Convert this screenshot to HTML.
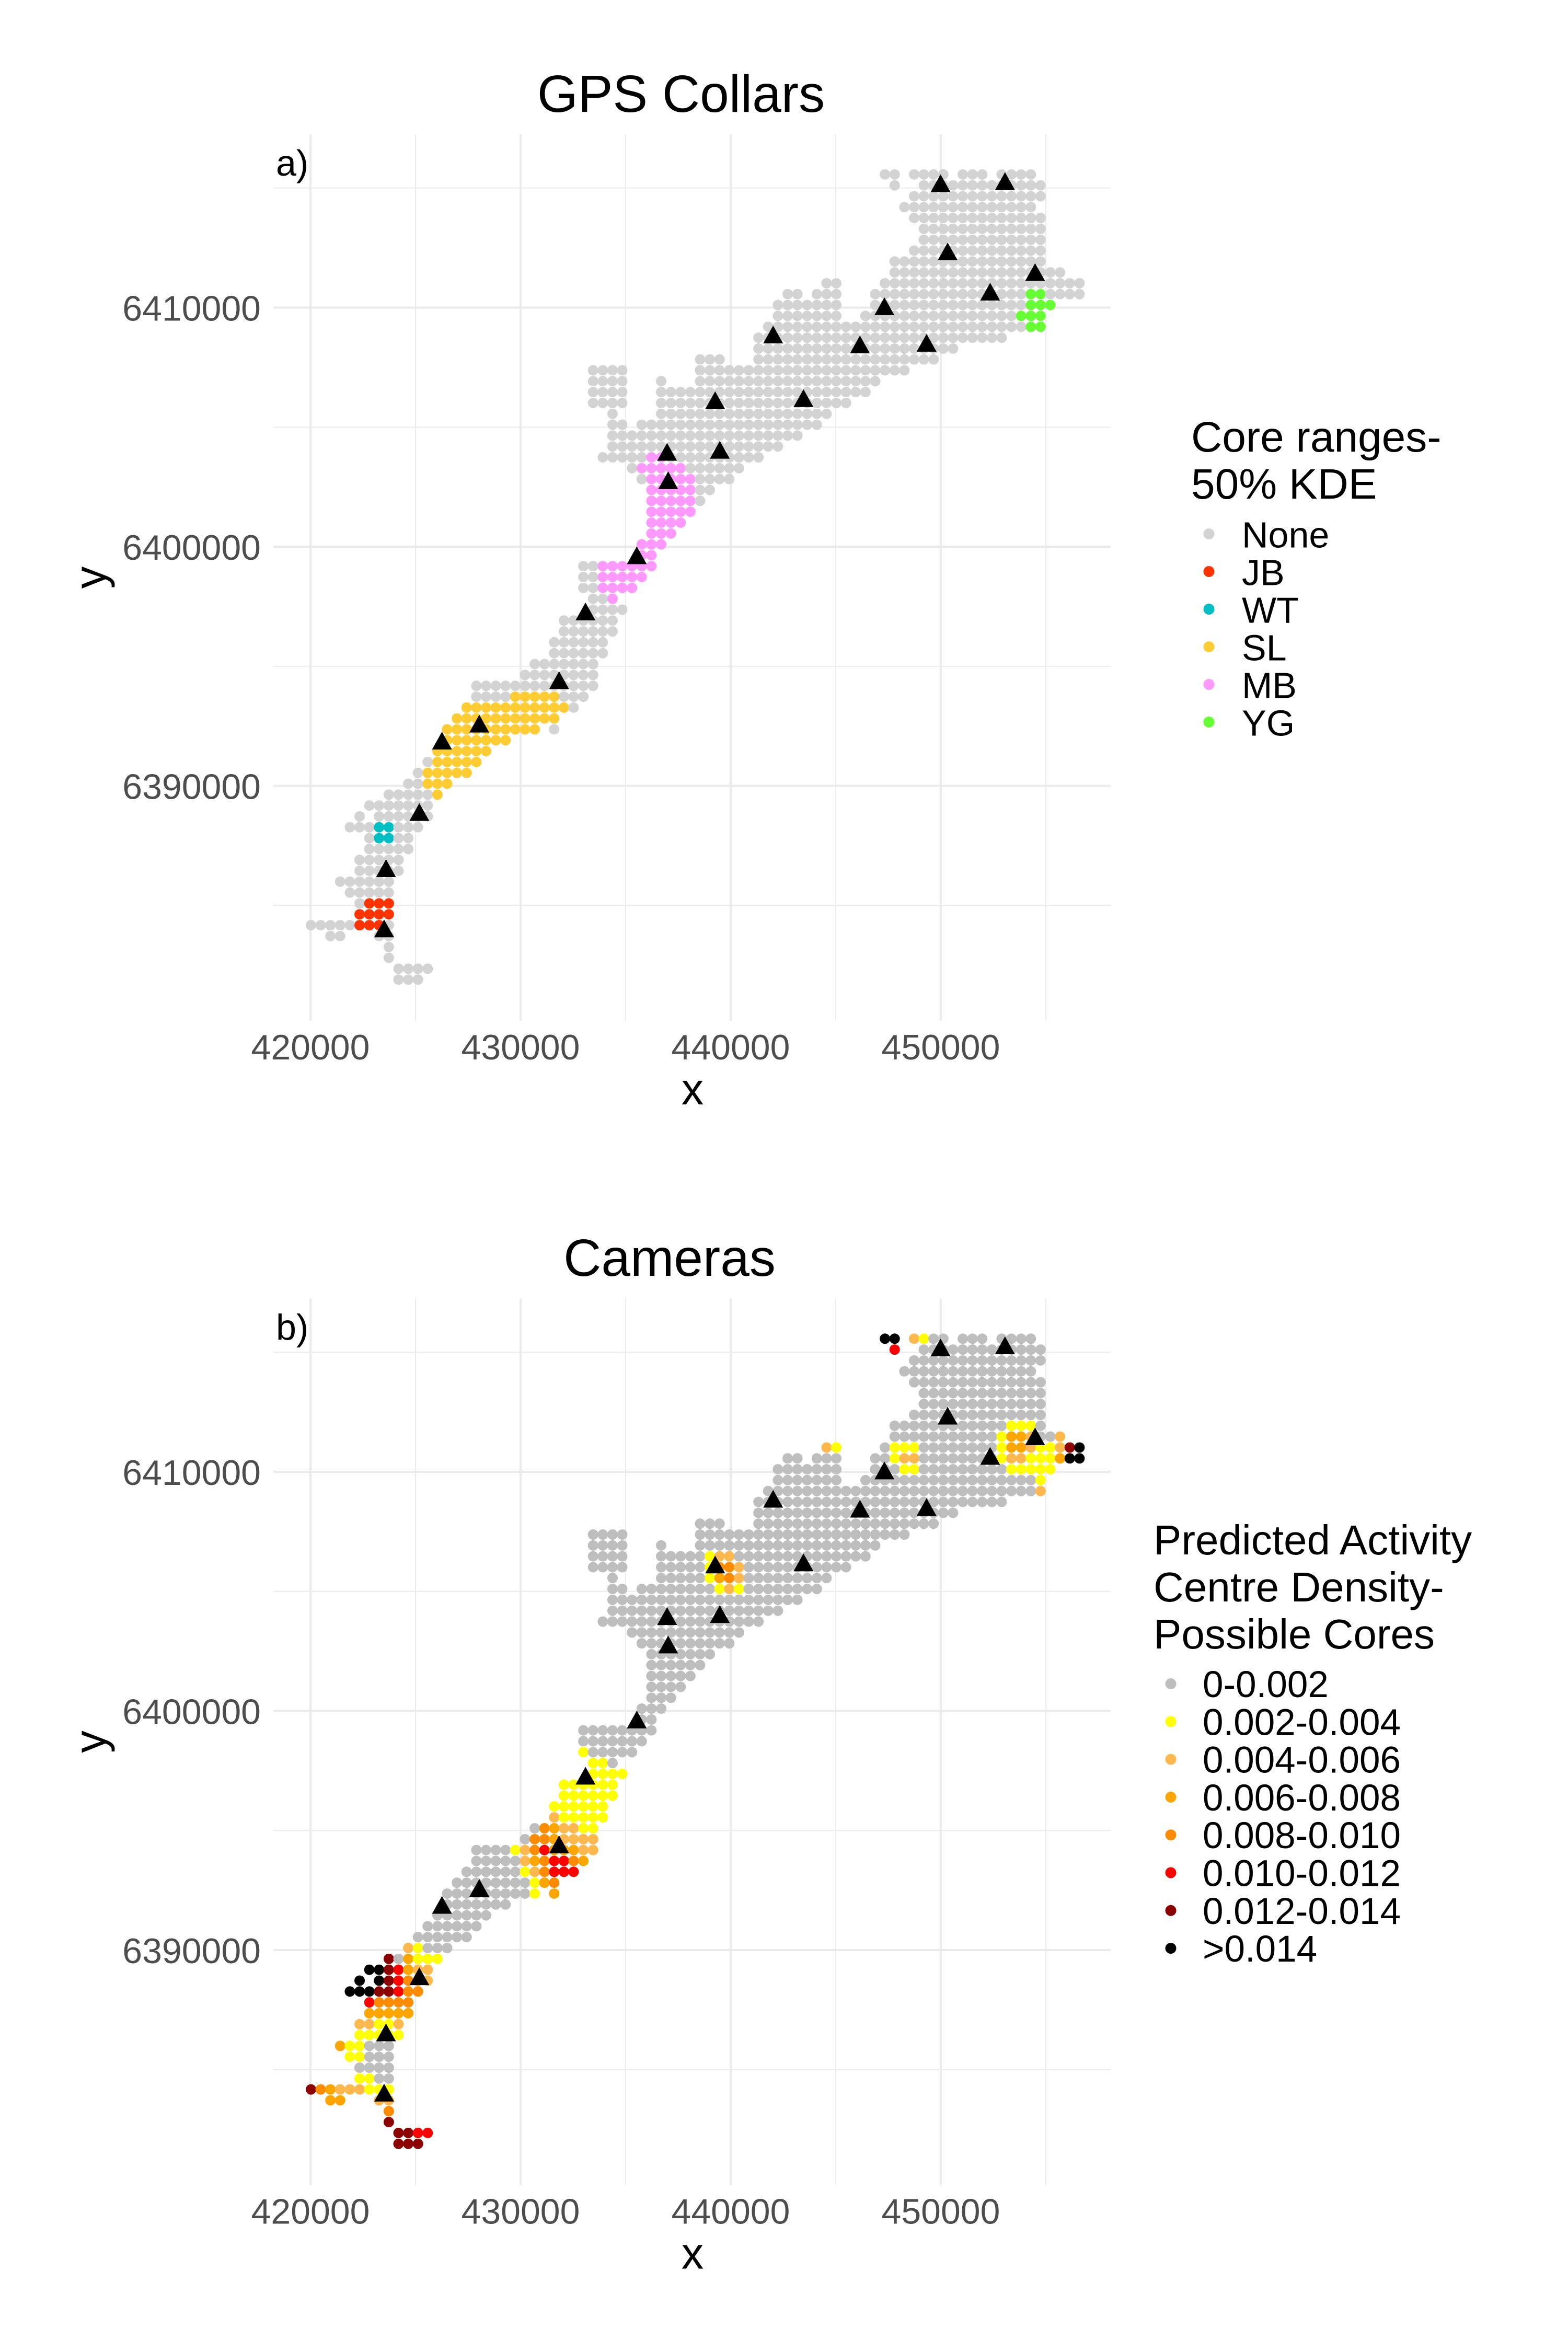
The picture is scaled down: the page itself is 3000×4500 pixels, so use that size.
<!DOCTYPE html>
<html><head><meta charset="utf-8"><style>
html,body{margin:0;padding:0;background:#fff;}
svg{display:block;font-family:"Liberation Sans",Arial,sans-serif;}
</style></head><body>
<svg id="fig" width="3000" height="4500" viewBox="0 0 3000 4500" xmlns="http://www.w3.org/2000/svg"></svg>
<script>
// ---------- data ----------
const xTicks = [420000, 430000, 440000, 450000];
const xTickLabels = ["420000", "430000", "440000", "450000"];
const xMinor = [425000, 435000, 445000, 455000];
const yTicks = [6410000, 6400000, 6390000];
const yTickLabels = ["6410000", "6400000", "6390000"];
const yMinor = [6415000, 6405000, 6395000, 6385000];
// grid definition (metres)
const gridX0 = 420024, gridDX = 463, gridY0 = 6415567, gridDY = 455;
// study-area cells: [row, colStart, colEnd]
const areaRows = [
[0,59,60],[0,62,65],[0,67,69],[0,71,74],[1,60,60],[1,63,75],[2,62,75],[3,61,74],[4,62,75],[5,63,75],[6,63,75],[7,62,75],[8,60,75],[9,60,77],
[10,53,54],[10,59,79],[11,49,50],[11,52,54],[11,58,79],[12,48,54],[12,58,76],[13,48,54],[13,57,75],[14,47,75],[15,46,71],[16,46,66],
[17,40,42],[17,46,64],[18,29,32],[18,40,61],[19,29,32],[19,36,36],[19,40,58],[20,29,32],[20,36,57],[21,29,32],[21,36,55],[22,31,31],[22,36,53],
[23,31,32],[23,34,52],[24,31,50],[25,31,48],[26,30,46],[27,33,44],[28,34,43],[29,35,41],[30,35,40],[31,35,39],[32,35,38],[33,35,37],[34,34,36],[35,34,35],
[36,28,35],[37,28,34],[38,28,33],[39,29,31],[40,29,32],[41,26,31],[42,26,31],[43,25,30],[44,25,30],[45,23,29],[46,22,29],[47,17,29],[48,17,28],
[49,16,27],[50,15,25],[51,14,23],[51,25,25],[52,14,20],[53,13,18],[54,12,17],[55,11,16],[56,10,14],[57,8,13],[58,6,12],[59,5,5],[59,7,12],
[60,4,11],[61,6,10],[62,6,10],[63,5,9],[64,5,9],[65,3,8],[66,4,8],[67,5,8],[68,5,8],[69,0,8],[70,2,3],[70,7,8],[71,8,8],[72,8,8],[73,9,12],[74,9,11]
];
// GPS core ranges: [row, colStart, colEnd, category]
const coreCats = ["None","JB","WT","SL","MB","YG"];
const coreCells = [
[26,35,36,"MB"],[27,34,38,"MB"],[28,35,39,"MB"],[29,35,39,"MB"],[30,35,39,"MB"],[31,35,39,"MB"],[32,35,38,"MB"],[33,35,37,"MB"],[34,34,36,"MB"],[35,34,35,"MB"],
[36,30,35,"MB"],[37,30,34,"MB"],[38,30,33,"MB"],[39,31,31,"MB"],
[11,74,75,"YG"],[12,74,76,"YG"],[13,73,75,"YG"],[14,74,75,"YG"],
[60,7,8,"WT"],[61,7,8,"WT"],
[67,6,8,"JB"],[68,5,8,"JB"],[69,5,7,"JB"],
[48,21,25,"SL"],[49,16,26,"SL"],[50,15,25,"SL"],[51,14,23,"SL"],[52,14,20,"SL"],[53,13,18,"SL"],[54,13,17,"SL"],[55,12,16,"SL"],[56,12,14,"SL"],[57,13,13,"SL"]
];
// camera density classes: [row, colStart, colEnd, classIndex]
const densCats = ["0-0.002","0.002-0.004","0.004-0.006","0.006-0.008","0.008-0.010","0.010-0.012","0.012-0.014",">0.014"];
const densCells = [
[0,59,60,7],[0,62,62,2],[0,63,63,1],[1,60,60,5],
[8,72,74,1],[9,71,71,1],[9,72,73,3],[9,74,74,2],[9,77,77,2],
[10,53,53,2],[10,54,54,1],[10,60,62,1],[10,71,71,1],[10,72,73,3],[10,74,74,2],[10,75,76,1],[10,77,77,2],[10,78,78,6],[10,79,79,7],
[11,60,60,1],[11,61,62,2],[11,71,71,1],[11,72,73,2],[11,74,76,1],[11,77,77,3],[11,78,79,7],
[12,61,62,1],[12,72,76,1],[13,75,75,1],[14,75,75,2],
[20,41,41,1],[20,42,43,2],[21,41,41,1],[21,42,43,4],[21,44,44,2],[22,41,41,1],[22,42,42,3],[22,43,43,4],[22,44,44,2],[23,42,42,1],[23,43,43,2],[23,44,44,1],
[38,28,28,1],[39,29,30,1],[40,28,32,1],[41,26,31,1],[42,26,31,1],[43,25,30,1],[44,25,25,2],[44,26,30,1],
[45,24,24,4],[45,25,25,3],[45,26,27,2],[45,28,29,1],
[46,23,24,4],[46,25,25,3],[46,26,29,2],
[47,21,21,1],[47,22,22,2],[47,23,23,4],[47,24,24,5],[47,25,27,3],[47,28,29,2],
[48,22,22,2],[48,23,23,3],[48,24,24,4],[48,25,26,5],[48,27,27,4],[48,28,28,3],
[49,22,22,1],[49,23,23,2],[49,24,24,4],[49,25,27,5],
[50,23,23,1],[50,24,24,3],[50,25,25,4],[51,23,23,1],[51,25,25,3],
[56,10,10,2],[56,11,11,1],[57,8,8,6],[57,10,10,3],[57,11,13,1],
[58,6,7,7],[58,8,8,6],[58,9,9,5],[58,10,10,3],[58,11,12,2],
[59,5,5,7],[59,7,7,7],[59,8,8,6],[59,9,9,5],[59,10,10,4],[59,11,11,3],[59,12,12,2],
[60,4,6,7],[60,7,8,6],[60,9,9,5],[60,10,11,4],
[61,6,6,5],[61,7,10,4],[62,6,10,3],
[63,5,6,2],[63,7,8,1],[63,9,9,2],[64,5,9,1],[65,3,3,3],[65,4,5,1],[66,4,5,1],[68,5,6,1],
[69,0,0,6],[69,1,1,4],[69,2,2,3],[69,3,5,2],[69,6,8,1],[70,2,3,3],[70,7,8,2],
[71,8,8,4],[72,8,8,6],[73,9,10,6],[73,11,12,5],[74,9,11,6]
];
// collar / camera locations
const siteX = [449988,453055,450326,454488,452348,447316,442020,446151,449323,439261,443465,436973,439483,437025,435532,433090,431833,428035,426259,425182,423595,423505];
const siteY = [6415137,6415224,6412284,6411421,6410601,6409993,6408809,6408393,6408463,6406061,6406148,6403902,6403987,6402712,6399576,6397228,6394356,6392536,6391826,6388840,6386491,6383974];

// ---------- styles ----------
const coreColors = {None:"#D3D3D3",JB:"#FF3300",WT:"#00BFC4",SL:"#FFCC33",MB:"#FF99FF",YG:"#66FF33"};
const densColors = ["#BEBEBE","#FFFF00","#FFB84D","#FFA500","#FF8C00","#FF0000","#8B0000","#000000"];
const NS = "http://www.w3.org/2000/svg";
const svg = document.getElementById("fig");
const PANEL = {left:523, right:2125, top:257, bottom:1953};
const OFFSET = 2227.5;
function xS(v){ return 594 + (v - 420000) * 0.0402; }
function yS(v, off){ return 588.5 - (v - 6410000) * 0.04575 + off; }
function mk(tag, attrs, parent){
  const e = document.createElementNS(NS, tag);
  for (const k in attrs) e.setAttribute(k, attrs[k]);
  (parent || svg).appendChild(e);
  return e;
}
function txt(s, attrs, parent){ const e = mk("text", attrs, parent); e.textContent = s; return e; }

function drawPanel(off, panelName, title, tag, cellMap, colorOf, legendFn){
  const g = mk("g", {});
  
  
  // gridlines
  const grid = mk("g", {}, g);
  
  
  xMinor.forEach(v => { const l = mk("line", {x1:xS(v), x2:xS(v), y1:PANEL.top+off, y2:PANEL.bottom+off, stroke:"#EBEBEB", "stroke-width":2}, grid);   });
  yMinor.forEach(v => { const l = mk("line", {x1:PANEL.left, x2:PANEL.right, y1:yS(v,off), y2:yS(v,off), stroke:"#EBEBEB", "stroke-width":2}, grid);   });
  xTicks.forEach(v => { const l = mk("line", {x1:xS(v), x2:xS(v), y1:PANEL.top+off, y2:PANEL.bottom+off, stroke:"#EBEBEB", "stroke-width":4}, grid);   });
  yTicks.forEach(v => { const l = mk("line", {x1:PANEL.left, x2:PANEL.right, y1:yS(v,off), y2:yS(v,off), stroke:"#EBEBEB", "stroke-width":4}, grid);   });
  // cells
  const cg = mk("g", {}, g);
  
  
  areaRows.forEach(([r, c0, c1]) => {
    for (let c = c0; c <= c1; c++){
      const key = r + "_" + c;
      const col = colorOf(cellMap[key]);
      const dot = mk("circle", {cx:xS(gridX0 + c*gridDX), cy:yS(gridY0 - r*gridDY, off), r:10, fill:col}, cg);
      
      
    }
  });
  // sites
  const sg = mk("g", {}, g);
  
  
  siteX.forEach((sx, i) => {
    const cx = xS(sx), cy = yS(siteY[i], off);
    const t = mk("polygon", {points:`${cx},${cy-20} ${cx-19},${cy+14} ${cx+19},${cy+14}`, fill:"#000"}, sg);
    
    
  });
  // tick labels
  xTicks.forEach((v, i) => { const t = txt(xTickLabels[i], {x:xS(v), y:2027+off, "font-size":68, fill:"#4D4D4D", "text-anchor":"middle"}, g);   });
  yTicks.forEach((v, i) => { const t = txt(yTickLabels[i], {x:499, y:yS(v,off)+25, "font-size":68, fill:"#4D4D4D", "text-anchor":"end"}, g);   });
  const xt = txt("x", {x:1325, y:2113+off, "font-size":85, fill:"#000", "text-anchor":"middle"}, g);
   
  const yt = txt("y", {x:0, y:0, "font-size":85, fill:"#000", "text-anchor":"middle", transform:`translate(202,${1105+off}) rotate(-90)`}, g);
   
  const tg = txt(tag, {x:528, y:336+off, "font-size":70, fill:"#000"}, g);
   
  legendFn(g);
  return g;
}

// top panel
const coreMap = {};
coreCells.forEach(([r, c0, c1, cat]) => { for (let c=c0;c<=c1;c++) coreMap[r+"_"+c] = cat; });
drawPanel(0, 'gps-collars-panel', "GPS Collars", "a)", coreMap, k => coreColors[k || "None"], g => {
  const lg = mk("g", {}, g);
  
  
  const t1 = txt("Core ranges-", {x:2279, y:864, "font-size":82}, lg);
   
  const t2 = txt("50% KDE", {x:2279, y:954, "font-size":82}, lg);
   
  coreCats.forEach((c, i) => {
    const d = mk("circle", {cx:2313, cy:1021.5+72*i, r:10.5, fill:coreColors[c]}, lg);
     
    const t = txt(c, {x:2376, y:1047.5+72*i, "font-size":70}, lg);
     
  });
});
const title1 = txt("GPS Collars", {x:1303, y:214, "font-size":100, "text-anchor":"middle"});
 

// bottom panel
const densMap = {};
densCells.forEach(([r, c0, c1, k]) => { for (let c=c0;c<=c1;c++) densMap[r+"_"+c] = k; });
drawPanel(OFFSET, 'cameras-panel', "Cameras", "b)", densMap, k => densColors[k || 0], g => {
  const lg = mk("g", {}, g);
  
  
  ["Predicted Activity","Centre Density-","Possible Cores"].forEach((s, i) => {
    const t = txt(s, {x:2207, y:2974+90*i, "font-size":80}, lg);
     
  });
  densCats.forEach((c, i) => {
    const d = mk("circle", {cx:2240, cy:3221.5+72.3*i, r:10.5, fill:densColors[i]}, lg);
     
    const t = txt(c, {x:2301, y:3247+72.3*i, "font-size":71}, lg);
     
  });
});
const title2 = txt("Cameras", {x:1281, y:2441, "font-size":100, "text-anchor":"middle"});
 
</script>
</body></html>
